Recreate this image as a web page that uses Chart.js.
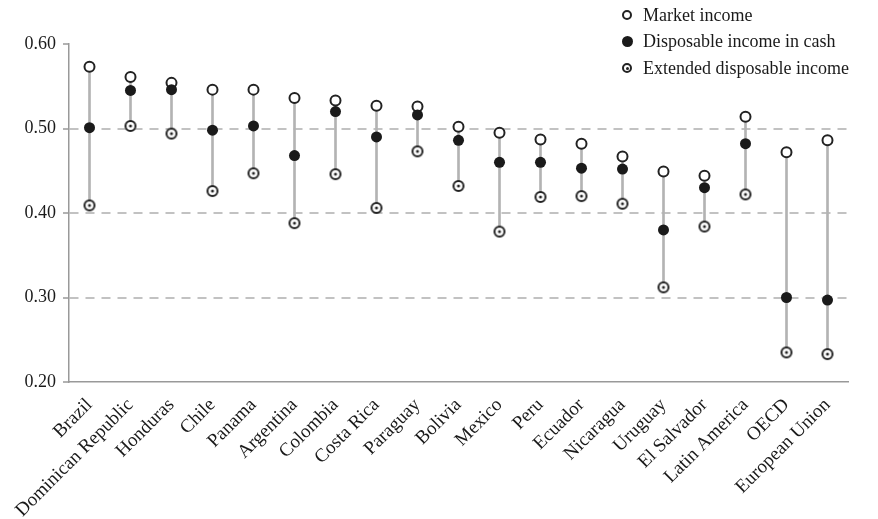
<!DOCTYPE html>
<html><head><meta charset="utf-8">
<script src="https://cdn.jsdelivr.net/npm/chart.js@4/dist/chart.umd.min.js"></script>
<style>
body{margin:0;background:#fff;}
#wrap{position:relative;width:878px;height:519px;}
#legend{position:absolute;left:619px;top:2px;font-family:"Liberation Serif",serif;font-size:18px;color:#1a1a1a;}
.li{display:flex;align-items:center;height:26.5px;white-space:nowrap;}
.mk{width:16px;height:16px;margin-right:8px;position:relative;}
.mk span{position:absolute;border-radius:50%;box-sizing:border-box;}
.m1 span{left:3px;top:3px;width:10px;height:10px;border:2px solid #222;background:#fff;}
.m2 span{left:2.5px;top:2.5px;width:11px;height:11px;background:#1a1a1a;}
.m3 span{left:3px;top:3px;width:10px;height:10px;border:2px solid #222;background:#fff;}
.m3 i{position:absolute;left:6.5px;top:6.5px;width:3px;height:3px;border-radius:50%;background:#222;}
</style>
</head><body>
<div id="wrap">
<canvas id="c" width="878" height="519"></canvas>
<div id="legend">
<div class="li"><div class="mk m1"><span></span></div>Market income</div>
<div class="li"><div class="mk m2"><span></span></div>Disposable income in cash</div>
<div class="li"><div class="mk m3"><span></span><i></i></div>Extended disposable income</div>
</div>
</div>
<script>
const categories = ["Brazil","Dominican Republic","Honduras","Chile","Panama","Argentina","Colombia","Costa Rica","Paraguay","Bolivia","Mexico","Peru","Ecuador","Nicaragua","Uruguay","El Salvador","Latin America","OECD","European Union"];
const marketIncome = [0.573,0.561,0.554,0.546,0.546,0.536,0.533,0.527,0.526,0.502,0.495,0.487,0.482,0.467,0.449,0.444,0.514,0.472,0.486];
const disposableCash = [0.501,0.545,0.546,0.498,0.503,0.468,0.520,0.490,0.516,0.486,0.460,0.460,0.453,0.452,0.380,0.430,0.482,0.300,0.297];
const extendedDisposable = [0.409,0.503,0.494,0.426,0.447,0.388,0.446,0.406,0.473,0.432,0.378,0.419,0.420,0.411,0.312,0.384,0.422,0.235,0.233];
const yTicks = [0.20,0.30,0.40,0.50,0.60];

const ranges = categories.map((_, i) => {
  const v = [marketIncome[i], disposableCash[i], extendedDisposable[i]];
  return [Math.min(...v), Math.max(...v)];
});

function ringDot(){
  const c = document.createElement('canvas'); c.width = 14; c.height = 14;
  const g = c.getContext('2d');
  g.beginPath(); g.arc(7,7,5,0,2*Math.PI); g.fillStyle='#fff'; g.fill();
  g.lineWidth = 2; g.strokeStyle = '#222'; g.stroke();
  g.beginPath(); g.arc(7,7,1.5,0,2*Math.PI); g.fillStyle='#222'; g.fill();
  return c;
}

const FONT = "'Liberation Serif', serif";
const isGridHidden = v => Math.abs(v - 0.6) < 1e-6 || Math.abs(v - 0.2) < 1e-6;

new Chart(document.getElementById('c'), {
  type: 'bar',
  data: {
    labels: categories,
    datasets: [
      { type:'bar', label:'range', data: ranges, backgroundColor:'#b3b3b3', barThickness:2, order:4 },
      { type:'line', label:'Market income', data: marketIncome, showLine:false, pointStyle:'circle', pointRadius:5, pointBorderWidth:2, pointBackgroundColor:'#fff', pointBorderColor:'#222', order:3 },
      { type:'line', label:'Extended disposable income', data: extendedDisposable, showLine:false, pointStyle: ringDot(), pointRadius:6, order:2 },
      { type:'line', label:'Disposable income in cash', data: disposableCash, showLine:false, pointStyle:'circle', pointRadius:5.5, pointBorderWidth:0, pointBackgroundColor:'#1a1a1a', pointBorderColor:'#1a1a1a', order:1 }
    ]
  },
  options: {
    responsive:false, animation:false,
    layout:{ padding:{ top:44, right:30, left:0, bottom:0 } },
    plugins:{ legend:{ display:false }, tooltip:{ enabled:false } },
    scales:{
      x:{
        offset:true,
        grid:{ display:false },
        border:{ display:true, color:'#999', width:1.5 },
        ticks:{ autoSkip:false, minRotation:45, maxRotation:45, color:'#1a1a1a', font:{ family:FONT, size:19 }, padding:4 },
        afterFit: s => { s.height = 137; }
      },
      y:{
        min:0.2, max:0.6,
        afterBuildTicks: s => { s.ticks = yTicks.map(v => ({ value: v })); },
        afterFit: s => { s.width = 69; },
        border:{ display:true, color:'#999', width:1.5, dash:[9,7] },
        grid:{
          color: ctx => (ctx.tick && isGridHidden(ctx.tick.value)) ? 'rgba(0,0,0,0)' : '#c2c2c2',
          lineWidth: 2,
          drawTicks:true, tickLength:6, tickColor:'#999', tickBorderDash:[], tickWidth:1.5
        },
        ticks:{ color:'#1a1a1a', font:{ family:FONT, size:18 }, padding:7, callback: v => Number(v).toFixed(2) }
      }
    }
  }
});
</script>
</body></html>
